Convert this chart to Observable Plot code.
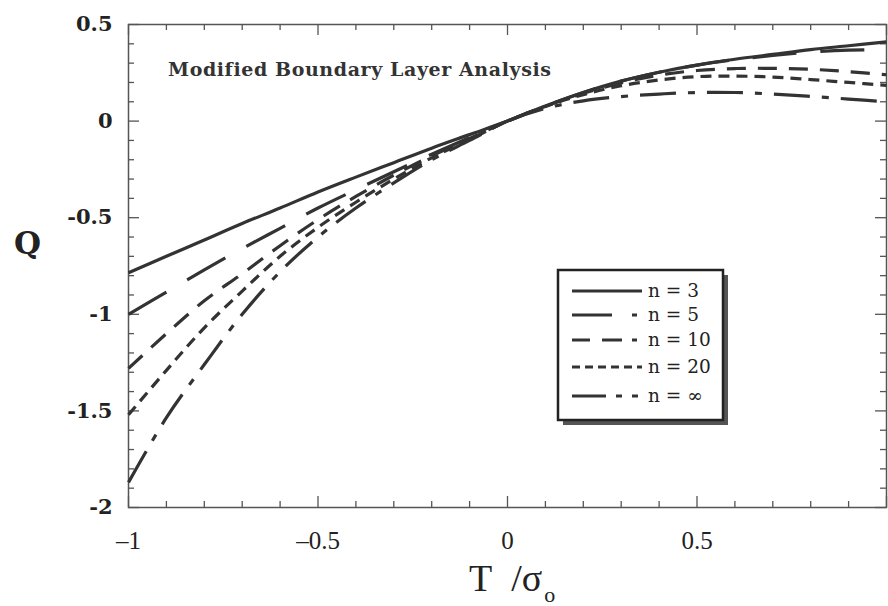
<!DOCTYPE html>
<html><head><meta charset="utf-8">
<script src="https://cdn.jsdelivr.net/npm/d3@7"></script>
<script src="https://cdn.jsdelivr.net/npm/@observablehq/plot@0.6"></script>
<style>html,body{margin:0;padding:0;background:#fff}svg{display:block}</style>
</head><body><div id="chart"></div>
<script>
// ---- data ----
const T = [-1,-0.9,-0.8,-0.7,-0.6,-0.5,-0.4,-0.3,-0.2,-0.1,0,0.1,0.2,0.3,0.4,0.5,0.6,0.7,0.8,0.9,1];
const Q_n3   = [-0.785,-0.70,-0.615,-0.53,-0.45,-0.367,-0.29,-0.215,-0.14,-0.07,0,0.078,0.148,0.207,0.253,0.29,0.32,0.345,0.37,0.39,0.41];
const Q_n5   = [-1.0,-0.885,-0.77,-0.66,-0.555,-0.45,-0.355,-0.262,-0.172,-0.085,0,0.078,0.148,0.207,0.253,0.29,0.318,0.34,0.357,0.367,0.37];
const Q_n10  = [-1.28,-1.10,-0.93,-0.79,-0.645,-0.51,-0.39,-0.28,-0.18,-0.09,0,0.077,0.144,0.198,0.238,0.262,0.272,0.273,0.268,0.256,0.24];
const Q_n20  = [-1.52,-1.29,-1.07,-0.88,-0.70,-0.55,-0.42,-0.30,-0.19,-0.095,0,0.076,0.137,0.183,0.213,0.23,0.233,0.228,0.215,0.20,0.185];
const Q_ninf = [-1.87,-1.535,-1.26,-1.0,-0.78,-0.60,-0.45,-0.32,-0.20,-0.10,0,0.066,0.105,0.127,0.14,0.148,0.148,0.14,0.128,0.114,0.10];
const seriesNames = ["n = 3","n = 5","n = 10","n = 20","n = \u221E"];
const seriesValues = [Q_n3, Q_n5, Q_n10, Q_n20, Q_ninf];
const xTicks = [-1,-0.5,0,0.5];
const xTickLabels = ["\u20131","\u20130.5","0","0.5"];
const yTicks = [0.5,0,-0.5,-1,-1.5,-2];
const yTickLabels = ["0.5","0","-0.5","-1","-1.5","-2"];
const xMajorTicks = [-1,-0.5,0,0.5,1];
const xMinor = [-0.9,-0.8,-0.7,-0.6,-0.4,-0.3,-0.2,-0.1,0.1,0.2,0.3,0.4,0.6,0.7,0.8,0.9];
const yMinor = [0.4,0.3,0.2,0.1,-0.1,-0.2,-0.3,-0.4,-0.6,-0.7,-0.8,-0.9,-1.1,-1.2,-1.3,-1.4,-1.6,-1.7,-1.8,-1.9];
const titleText = "Modified Boundary Layer Analysis";

// ---- styles ----
const dashes = ["none","44,24","19,12","11,7","36,12,7,12"];
const ink = "#333";
const W = 888, H = 606, mL = 128, mR = 2, mT = 24, mB = 99;
const innerH = H - mT - mB, innerW = W - mL - mR;

const rows = [];
seriesValues.forEach((vals, s) => vals.forEach((q, i) => rows.push({series: seriesNames[s], T: T[i], Q: q})));

const lineMarks = seriesNames.map((name, s) =>
  Plot.line(rows.filter(d => d.series === name), {
    x: "T", y: "Q", stroke: ink, strokeWidth: 3.2,
    strokeDasharray: dashes[s], curve: "catmull-rom", strokeLinecap: "butt"
  })
);

const tk = {stroke: "#555", strokeWidth: 1.3};
const chart = Plot.plot({
  width: W, height: H,
  marginLeft: mL, marginRight: mR, marginTop: mT, marginBottom: mB,
  x: {domain: [-1, 1]},
  y: {domain: [-2, 0.5]},
  style: {background: "#fff"},
  marks: [
    // inward ticks on all four sides
    Plot.tickX(xMajorTicks, {x: d => d, insetTop: innerH - 11, ...tk}),
    Plot.tickX(xMinor, {x: d => d, insetTop: innerH - 6, ...tk}),
    Plot.tickX(xMajorTicks, {x: d => d, insetBottom: innerH - 11, ...tk}),
    Plot.tickX(xMinor, {x: d => d, insetBottom: innerH - 6, ...tk}),
    Plot.tickY(yTicks, {y: d => d, insetRight: innerW - 11, ...tk}),
    Plot.tickY(yMinor, {y: d => d, insetRight: innerW - 6, ...tk}),
    Plot.tickY(yTicks, {y: d => d, insetLeft: innerW - 11, ...tk}),
    Plot.tickY(yMinor, {y: d => d, insetLeft: innerW - 6, ...tk}),
    Plot.frame({stroke: "#555", strokeWidth: 1.5}),
    Plot.axisX({ticks: xTicks, tickSize: 0, tickPadding: 24, label: null,
      tickFormat: d => xTickLabels[xTicks.indexOf(d)],
      fontSize: 25, fontFamily: "Liberation Serif", fill: "#222"}),
    Plot.axisY({ticks: yTicks, tickSize: 0, tickPadding: 16, label: null,
      tickFormat: d => yTickLabels[yTicks.indexOf(d)],
      fontSize: 21, fontFamily: "DejaVu Serif", fontWeight: "bold", fill: "#222"}),
    ...lineMarks
  ]
});
document.getElementById("chart").appendChild(chart);

// ---- annotations and legend ----
const svg = d3.select(chart);
svg.append("text").attr("x", 168).attr("y", 76).attr("text-anchor", "start")
  .attr("font-family", "DejaVu Serif").attr("font-weight", "bold").attr("font-size", 19)
  .attr("letter-spacing", 0.6).attr("fill", "#333").text(titleText);

svg.append("text").attr("x", 14).attr("y", 254).attr("text-anchor", "start")
  .attr("font-family", "DejaVu Serif").attr("font-weight", "bold").attr("font-size", 31)
  .attr("fill", "#222").text("Q");

const xl = svg.append("text").attr("x", 469).attr("y", 591).attr("text-anchor", "start")
  .attr("font-family", "Liberation Serif").attr("font-size", 38).attr("fill", "#222");
xl.append("tspan").text("T\u2002/\u03C3");
xl.append("tspan").attr("font-size", 22).attr("dy", 11).attr("dx", 2).text("o");

const lg = svg.append("g");
const bx = 558, by = 270, bw = 165, bh = 150;
lg.append("rect").attr("x", bx + 5).attr("y", by + 5).attr("width", bw).attr("height", bh).attr("fill", "#555");
lg.append("rect").attr("x", bx).attr("y", by).attr("width", bw).attr("height", bh)
  .attr("fill", "#fff").attr("stroke", "#222").attr("stroke-width", 2.5);
const rowY = [291, 315, 340, 367, 396];
const legendDashes = ["none","40,20,5,5","18,12,20,10,5,5","8,5","34,10,6,10,6,4"];
seriesNames.forEach((name, s) => {
  lg.append("line").attr("x1", 572).attr("x2", 642).attr("y1", rowY[s]).attr("y2", rowY[s])
    .attr("stroke", ink).attr("stroke-width", 3.2).attr("stroke-dasharray", legendDashes[s]);
  lg.append("text").attr("x", 648).attr("y", rowY[s]).attr("dy", "0.35em").attr("text-anchor", "start")
    .attr("font-family", "DejaVu Serif").attr("font-size", 18.5).attr("fill", "#222").text(name);
});
</script>
</body></html>
